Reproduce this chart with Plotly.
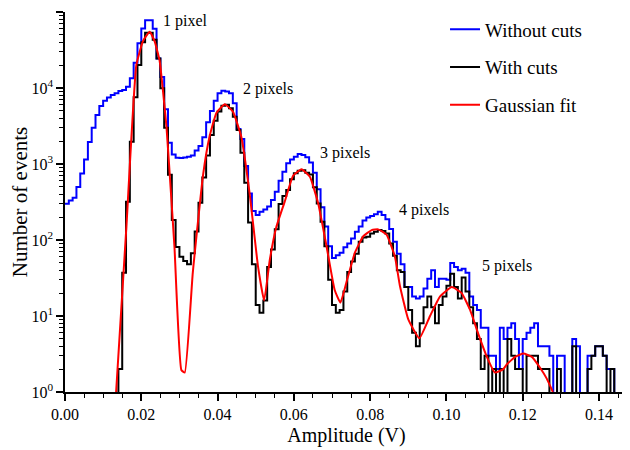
import plotly.graph_objects as go

# histogram bins: 0.001 V wide, starting at 0 V
bin_width = 0.001

without_cuts = [
    300, 330, 360, 500, 750, 1150, 1950, 3000, 4400, 5800,
    6800, 7500, 8100, 8500, 9100, 9400, 10400, 13400, 21500, 38700,
    60500, 78000, 78000, 60000, 24500, 14000, 5250, 1900, 1330, 1210,
    1200, 1220, 1250, 1290, 1500, 1730, 2250, 3530, 5000, 6800,
    8500, 9200, 9000, 8500, 6300, 2880, 2130, 940, 410, 240,
    213, 235, 252, 275, 335, 433, 600, 790, 1020, 1150,
    1250, 1350, 1310, 1230, 1045, 770, 465, 270, 150, 83,
    58, 63, 68, 80, 90, 105, 128, 150, 180, 198,
    207, 218, 235, 213, 187, 140, 95, 66, 48, 24,
    24, 18, 17, 18, 23, 31, 40, 24, 31, 31,
    30, 50, 44, 40, 42, 37, 18, 14, 12, 7,
    7, 3, 3, 2, 7, 5, 7, 8, 5, 2,
    5, 6, 7, 8, 4, 4, 4, 3, 0, 3,
    3, 0, 0, 5, 4, 0, 0, 3, 3, 4,
    4, 3, 2, 2, 0, 0, 0, 0, 0, 0,
]

with_cuts = [
    0, 0, 0, 0, 0, 0, 0, 0, 0, 0,
    0, 0, 0, 0, 2, 37, 318, 1960, 7550, 20000,
    40000, 53500, 53500, 43000, 24500, 9900, 3000, 720, 183, 81,
    60, 53, 48, 67, 129, 310, 665, 1290, 2400, 3700,
    4900, 5850, 6000, 5400, 4200, 2800, 1410, 565, 170, 48,
    14, 11, 16, 44, 75, 138, 297, 380, 455, 630,
    755, 815, 830, 770, 730, 495, 303, 174, 83, 30,
    14, 11, 12, 21, 38, 52, 66, 95, 108, 110,
    122, 128, 135, 131, 122, 90, 62, 40, 38, 24,
    12, 6, 4, 8, 13, 18, 13, 8, 14, 18,
    25, 36, 24, 17, 32, 21, 13, 8, 5, 2,
    3, 0, 2, 0, 2, 0, 5, 3, 2, 2,
    0, 3, 3, 3, 2, 2, 2, 0, 0, 2,
    0, 0, 0, 4, 0, 0, 0, 2, 3, 4,
    4, 3, 0, 2, 0, 0, 0, 0, 0, 0,
]

fit_x = [
    0.0134, 0.0161, 0.0187, 0.0205, 0.0222, 0.0235, 0.0248, 0.0257, 0.0266, 0.0275,
    0.0287, 0.0305, 0.0314, 0.0335, 0.0362, 0.0379, 0.0397, 0.0419, 0.0440, 0.0462,
    0.0484, 0.0506, 0.0522, 0.0537, 0.0554, 0.0576, 0.0598, 0.0620, 0.0642, 0.0664,
    0.0686, 0.0707, 0.0722, 0.0738, 0.0760, 0.0782, 0.0804, 0.0821, 0.0843, 0.0865,
    0.0878, 0.0900, 0.0929, 0.0957, 0.0983, 0.1014, 0.1040, 0.1062, 0.1083, 0.1106,
    0.1127, 0.1149, 0.1158, 0.1180, 0.1202, 0.1224, 0.1245, 0.1263, 0.1279,
]
fit_y = [
    1, 150, 20000, 42000, 55000, 41000, 23000, 9000, 3100, 680,
    81, 1.95, 1.8, 37, 720, 2300, 4700, 6100, 4900, 2300,
    410, 45, 16, 55, 148, 320, 700, 850, 680, 300,
    81, 22, 15, 28, 68, 112, 135, 138, 118, 60,
    25, 9, 5.1, 10, 18, 24, 20, 12, 5.9, 2.9,
    1.8, 2.0, 2.3, 2.9, 3.2, 2.9, 2.1, 1.5, 1,
]

peak_labels = ["1 pixel", "2 pixels", "3 pixels", "4 pixels", "5 pixels"]
label_x = [0.0316, 0.0532, 0.0735, 0.0940, 0.1160]
label_y = [4.88, 3.99, 3.15, 2.39, 1.66]  # log10 units

FONT = "Liberation Serif"
FLOOR = 0.1  # empty bins drawn below the visible range


def steps(counts):
    xs = [i * bin_width for i in range(len(counts) + 1)]
    ys = [c if c > 0 else FLOOR for c in counts]
    ys.append(ys[-1])
    return xs, ys


fig = go.Figure()

x1, y1 = steps(without_cuts)
fig.add_trace(go.Scatter(x=x1, y=y1, mode="lines", line_shape="hv", name="Without cuts",
                         line=dict(color="#0000ff", width=2), legendgroup="a"))
x2, y2 = steps(with_cuts)
fig.add_trace(go.Scatter(x=x2, y=y2, mode="lines", line_shape="hv", name="With cuts",
                         line=dict(color="black", width=2), legendgroup="b"))
fig.add_trace(go.Scatter(x=fit_x, y=fit_y, mode="lines", name="Gaussian fit",
                         line=dict(color="#ff0000", width=2, shape="spline", smoothing=0.4),
                         legendgroup="c"))

for txt, lx, ly in zip(peak_labels, label_x, label_y):
    fig.add_annotation(x=lx, y=ly, text=txt, showarrow=False,
                       font=dict(family=FONT, size=16, color="black"))

minor_y = [m * 10 ** k for k in range(5) for m in range(2, 10)]

# the page body adds an 8px margin, so the figure is sized/offset to compensate
fig.update_layout(
    width=622, height=442,
    margin=dict(l=57, r=2, t=4, b=58),
    plot_bgcolor="white", paper_bgcolor="white",
    font=dict(family=FONT, color="black"),
    showlegend=True,
    legend=dict(x=0.675, y=1.004, xanchor="left", yanchor="top",
                font=dict(family=FONT, size=19), bgcolor="rgba(0,0,0,0)",
                tracegroupgap=10),
    xaxis=dict(
        range=[0, 0.1476], tickvals=[0, 0.02, 0.04, 0.06, 0.08, 0.10, 0.12, 0.14],
        tickformat=".2f", ticks="outside", ticklen=7, tickwidth=1.5, tickcolor="black",
        showline=True, linecolor="black", linewidth=1.5, showgrid=False, zeroline=False,
        tickfont=dict(size=16),
        minor=dict(dtick=0.005, tick0=0, ticks="outside", ticklen=4, tickcolor="black", tickwidth=1.2),
        title=dict(text="Amplitude (V)", font=dict(size=20), standoff=6),
    ),
    yaxis=dict(
        type="log", range=[0, 5],
        tickvals=[1, 10, 100, 1000, 10000, 100000],
        ticktext=["10<sup>%d</sup>" % k for k in range(6)],
        ticks="outside", ticklen=7, tickwidth=1.5, tickcolor="black",
        showline=True, linecolor="black", linewidth=1.5, showgrid=False, zeroline=False,
        tickfont=dict(size=16),
        minor=dict(tickvals=minor_y, ticks="outside", ticklen=4, tickcolor="black", tickwidth=1.2),
        title=dict(text="Number of events", font=dict(size=21), standoff=4),
    ),
)

fig.write_html("out.html")
